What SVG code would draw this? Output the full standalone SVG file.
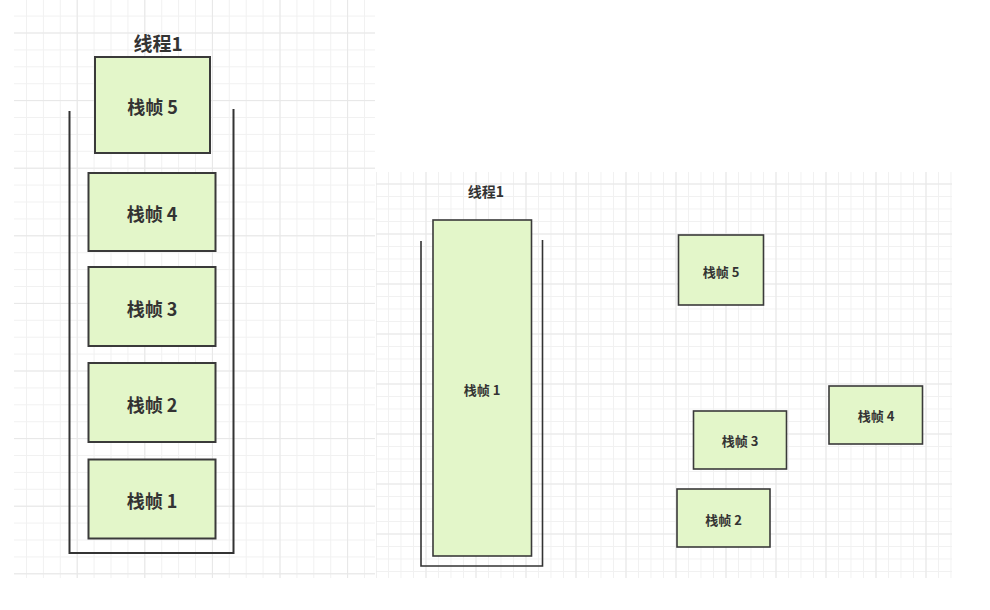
<svg xmlns="http://www.w3.org/2000/svg" width="990" height="610" viewBox="0 0 990 610">
  <style>
    .frame{fill:#e3f6c9;stroke:#3a3a3a;stroke-width:2}
    .frameS{fill:#e3f6c9;stroke:#3a3a3a;stroke-width:1.6}
    .wall{fill:none;stroke:#333;stroke-width:2}
    .wallS{fill:none;stroke:#333;stroke-width:1.6}
    .lbl{font-family:"Noto Sans CJK SC","Noto Sans",sans-serif;font-weight:bold;fill:#333;text-anchor:middle}
    .big{font-size:18px}
    .small{font-size:13px}
  </style>
  <defs>
    <pattern id="gL" patternUnits="userSpaceOnUse" x="9.1" y="15.6" width="16.9" height="16.9">
      <path d="M0.5 0V16.9M0 0.5H16.9" stroke="#f1f1f1" stroke-width="1" fill="none"/>
    </pattern>
    <pattern id="gLM" patternUnits="userSpaceOnUse" x="9.1" y="32.5" width="67.6" height="67.6">
      <path d="M0.5 0V67.6M0 0.5H67.6" stroke="#e7e7e7" stroke-width="1" fill="none"/>
    </pattern>
    <pattern id="gR" patternUnits="userSpaceOnUse" x="375.5" y="171" width="12.5" height="12.5">
      <path d="M0.5 0V12.5M0 0.5H12.5" stroke="#f1f1f1" stroke-width="1" fill="none"/>
    </pattern>
    <pattern id="gRM" patternUnits="userSpaceOnUse" x="375.5" y="183.5" width="50" height="50">
      <path d="M0.5 0V50M0 0.5H50" stroke="#e7e7e7" stroke-width="1" fill="none"/>
    </pattern>
  </defs>
  <rect width="990" height="610" fill="#ffffff"/>
  <g id="grid-left">
    <rect x="14" y="0" width="361" height="578" fill="url(#gL)"/>
    <rect x="14" y="0" width="361" height="578" fill="url(#gLM)"/>
  </g>
  <g id="grid-right">
    <rect x="376" y="172" width="576" height="406" fill="url(#gR)"/>
    <rect x="376" y="172" width="576" height="406" fill="url(#gRM)"/>
  </g>

  <!-- Left panel -->
  <g id="left-thread">
    <text class="lbl" x="158" y="51" font-size="19">线程1</text>
    <path class="wall" d="M69.5 111V553H233.5V109"/>
  </g>
  <g id="L-frame5">
    <rect class="frame" x="95" y="57" width="115" height="96"/>
    <text class="lbl big" x="152.5" y="114">栈帧 5</text>
  </g>
  <g id="L-frame4">
    <rect class="frame" x="88.5" y="173" width="127" height="78"/>
    <text class="lbl big" x="152" y="221">栈帧 4</text>
  </g>
  <g id="L-frame3">
    <rect class="frame" x="88.5" y="267" width="127" height="79"/>
    <text class="lbl big" x="152" y="316">栈帧 3</text>
  </g>
  <g id="L-frame2">
    <rect class="frame" x="88.5" y="363" width="127" height="79"/>
    <text class="lbl big" x="152" y="412">栈帧 2</text>
  </g>
  <g id="L-frame1">
    <rect class="frame" x="88.5" y="459.5" width="127" height="79"/>
    <text class="lbl big" x="152" y="508">栈帧 1</text>
  </g>

  <!-- Right panel -->
  <g id="right-thread">
    <text class="lbl" x="486" y="197" font-size="14">线程1</text>
    <path class="wallS" d="M421 241V566H542.5V240"/>
  </g>
  <g id="R-frame1">
    <rect class="frameS" x="433" y="220" width="98.5" height="336"/>
    <text class="lbl small" x="482" y="395">栈帧 1</text>
  </g>
  <g id="R-frame5">
    <rect class="frameS" x="678.5" y="235" width="85" height="70"/>
    <text class="lbl small" x="721" y="277">栈帧 5</text>
  </g>
  <g id="R-frame4">
    <rect class="frameS" x="829" y="386" width="93.5" height="58"/>
    <text class="lbl small" x="876" y="421">栈帧 4</text>
  </g>
  <g id="R-frame3">
    <rect class="frameS" x="693.5" y="411" width="93" height="58"/>
    <text class="lbl small" x="740" y="446">栈帧 3</text>
  </g>
  <g id="R-frame2">
    <rect class="frameS" x="677" y="489" width="93" height="58"/>
    <text class="lbl small" x="723.5" y="524.5">栈帧 2</text>
  </g>
  <g id="connectors"></g>
</svg>
